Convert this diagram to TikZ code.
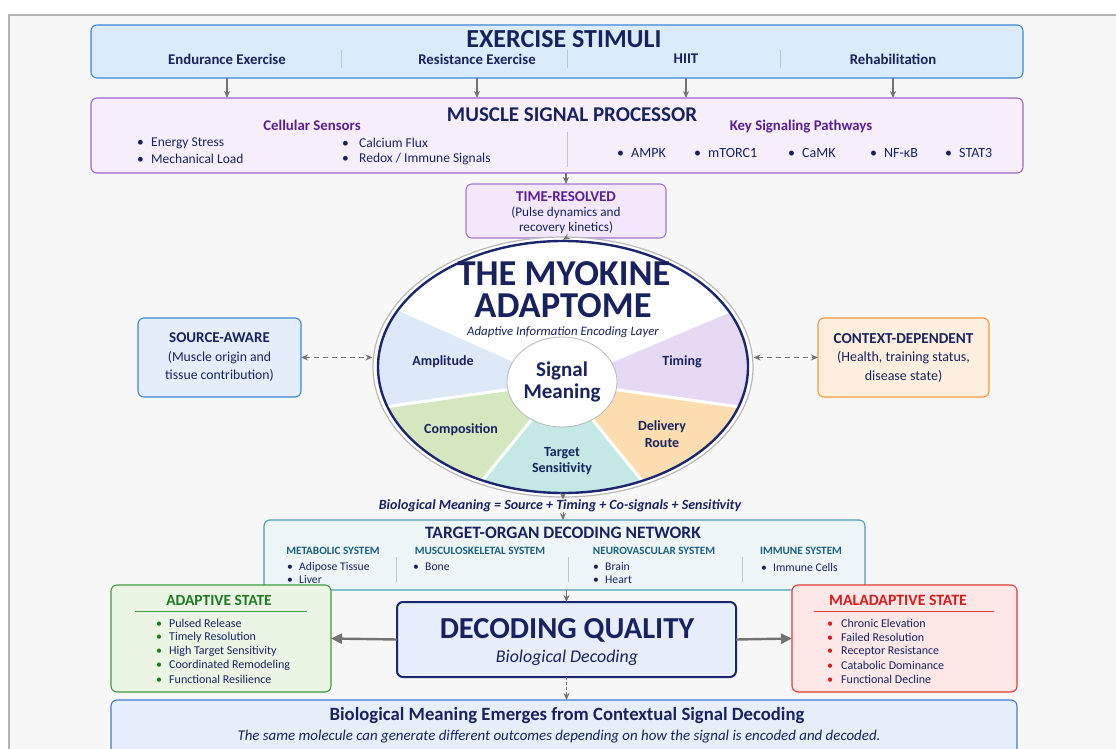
\documentclass[tikz,border=0pt]{standalone}
\usepackage{fontspec}
\setmainfont{Carlito}
\usepackage{xcolor}
\usepackage{tikz}
\usetikzlibrary{positioning}
\usetikzlibrary{calc}
\usetikzlibrary{arrows.meta}
\usetikzlibrary{shapes.geometric}

\definecolor{ink}{HTML}{18225F}
\definecolor{pagebg}{HTML}{F7F7F8}
\definecolor{framegray}{HTML}{B4B4B4}
\definecolor{arrgray}{HTML}{727272}
\definecolor{sepgray}{HTML}{C4C4C4}
\definecolor{stimfill}{HTML}{DCEBF9}
\definecolor{stimline}{HTML}{3A86D6}
\definecolor{procfill}{HTML}{F6EFFB}
\definecolor{procline}{HTML}{9B65CB}
\definecolor{purp}{HTML}{5A1E96}
\definecolor{timefill}{HTML}{F2E8FA}
\definecolor{timeline}{HTML}{A276D2}
\definecolor{ringgray}{HTML}{B8B8B8}
\definecolor{ampl}{HTML}{DDE9F8}
\definecolor{compo}{HTML}{D5E7BF}
\definecolor{targ}{HTML}{C4E9E5}
\definecolor{deliv}{HTML}{FBDDB0}
\definecolor{timing}{HTML}{E6D9F4}
\definecolor{srcfill}{HTML}{E4EEFA}
\definecolor{srcline}{HTML}{3B87D5}
\definecolor{ctxfill}{HTML}{FDEEDD}
\definecolor{ctxline}{HTML}{F29A3B}
\definecolor{netfill}{HTML}{EEF5F7}
\definecolor{netline}{HTML}{4E9CB2}
\definecolor{netink}{HTML}{17607F}
\definecolor{adfill}{HTML}{EBF5E4}
\definecolor{adline}{HTML}{3D9B41}
\definecolor{adgreen}{HTML}{1E7A22}
\definecolor{malfill}{HTML}{FDE8E7}
\definecolor{malline}{HTML}{E53935}
\definecolor{malred}{HTML}{D81B1B}
\definecolor{decfill}{HTML}{E7EEF9}
\definecolor{decline}{HTML}{1B2670}
\definecolor{botfill}{HTML}{E6EEF9}
\definecolor{botline}{HTML}{3D80CF}

\newcommand{\fsz}[2]{\fontsize{#1}{#2}\selectfont}
\newcommand{\bul}[1]{\makebox[#1][l]{\textbullet}}

\tikzset{
  panel/.style={draw, rounded corners=6pt, line width=1.1pt, inner sep=0pt, outer sep=0pt},
  txt/.style={inner sep=0pt, text=ink},
  item/.style={inner sep=0pt, text=ink, anchor=west},
  arr/.style={draw=arrgray, line width=1.3pt, -{Stealth[length=7pt,width=6pt]}},
  bigarr/.style={draw=arrgray, line width=2.4pt, -{Triangle[length=11pt,width=10pt]}},
  dasharr/.style={draw=arrgray, line width=1.3pt, dash pattern=on 5pt off 4pt,
    {Stealth[length=7pt,width=6pt]}-{Stealth[length=7pt,width=6pt]}},
  sepline/.style={draw=sepgray, line width=0.9pt},
}

\begin{document}
\begin{tikzpicture}[x=1pt,y=-1pt]

\useasboundingbox (0,0) rectangle (1116,749);
\fill[white] (0,0) rectangle (1116,749);
\fill[pagebg] (9,15) rectangle (1116,749);
\draw[framegray, line width=1.4pt] (9,749) -- (9,15) -- (1116,15);

% exercise stimuli
\node[panel, draw=stimline, fill=stimfill, minimum width=932pt, minimum height=53pt] (stimuli) at (557,51.5) {};
\node[txt, font=\fsz{26}{28}\bfseries] (stimtitle) at (564,39) {EXERCISE STIMULI};
\node[txt, font=\fsz{14.8}{16}\bfseries] (endu) at (227,59) {Endurance Exercise};
\node[txt, font=\fsz{14.8}{16}\bfseries] (resis) at (477,59) {Resistance Exercise};
\node[txt, font=\fsz{14.8}{16}\bfseries] (hiit) at (686,59) {HIIT};
\node[txt, font=\fsz{14.8}{16}\bfseries] (rehab) at (893,59) {Rehabilitation};
\foreach \x in {341,567,780}
  \draw[sepline] (\x,50) -- (\x,68);

% muscle signal processor
\node[panel, draw=procline, fill=procfill, minimum width=932pt, minimum height=75pt] (proc) at (557,135.5) {};
\node[txt, font=\fsz{21}{23}\bfseries] (proctitle) at (572,115) {MUSCLE SIGNAL PROCESSOR};
\node[txt, text=purp, font=\fsz{14.8}{16}\bfseries] (sensors) at (312,125) {Cellular Sensors};
\node[txt, text=purp, font=\fsz{14.8}{16}\bfseries] (pathways) at (801,127) {Key Signaling Pathways};
\node[item, font=\fsz{13.5}{15}] (s1) at (137,143) {\bul{14pt}Energy Stress};
\node[item, font=\fsz{13.5}{15}] (s2) at (137,159) {\bul{14pt}Mechanical Load};
\node[item, font=\fsz{13.5}{15}] (s3) at (342,143) {\bul{17pt}Calcium Flux};
\node[item, font=\fsz{13.5}{15}] (s4) at (342,159) {\bul{17pt}Redox / Immune Signals};
\draw[sepline] (567,132) -- (567,167);
\foreach \x/\t [count=\i] in {617/AMPK, 694/mTORC1, 788/CaMK, 870/NF-κB, 945/STAT3}
  \node[item, font=\fsz{14}{15}] (p\i) at (\x,153) {\bul{14pt}\t};

\foreach \n in {endu,resis,hiit,rehab}
  \draw[arr] (stimuli.south -| \n) -- (proc.north -| \n);

% time-resolved
\node[panel, draw=timeline, fill=timefill, minimum width=200pt, minimum height=54pt] (time) at (566,211) {};
\node[txt, text=purp, font=\fsz{15}{16}\bfseries] (timetitle) at (566,197) {TIME-RESOLVED};
\node[txt, align=center, font=\fsz{13.2}{15}] (timetext) at (566,220.5) {(Pulse dynamics and\\recovery kinetics)};
\draw[arr] (proc.south -| time.north) -- (time.north);

% the adaptome ellipse
\node[ellipse, draw=ringgray, fill=white, line width=1.2pt, minimum width=380pt, minimum height=260pt] (ring) at (563,367) {};
\coordinate (C) at (562,382);
\begin{scope}
  \clip (563,367) ellipse [x radius=185, y radius=126];
  \foreach \a/\b/\col in {156/188/ampl, 188/231/compo, 231/309/targ, 309/352/deliv, 352/383/timing}
    \fill[\col] (C) -- ($(C)+(-\a:600)$) -- ($(C)+(-\b:600)$) -- cycle;
  % white gaps between slices
  \foreach \a in {156,188,231,309,352,383}
    \draw[white, line width=3pt] (C) -- ($(C)+(-\a:600)$);
\end{scope}
\node[ellipse, draw=decline, line width=2.4pt, minimum width=370pt, minimum height=252pt] (adaptome) at (563,367) {};
\draw[arr, line width=1pt] (time.south) -- (adaptome.north);

\node[txt, text height=23pt, text depth=0pt, font=\fsz{36.5}{37}\bfseries] (myokine) at (564,273.5) {THE MYOKINE};
\node[txt, text height=23pt, text depth=0pt, font=\fsz{36.5}{37}\bfseries] (adaptomet) at (563,305.5) {ADAPTOME};
\node[txt, text height=9pt, text depth=2pt, font=\fsz{12.8}{14}\itshape] (layer) at (563,331.5) {Adaptive Information Encoding Layer};

\node[txt, font=\fsz{14}{16}\bfseries] (amp) at (443,362) {Amplitude};
\node[txt, font=\fsz{14}{16}\bfseries] (tim) at (682,362) {Timing};
\node[txt, font=\fsz{14}{16}\bfseries] (comp) at (461,430) {Composition};
\node[txt, align=center, font=\fsz{14}{16.5}\bfseries] (tsens) at (562,461) {Target\\Sensitivity};
\node[txt, align=center, font=\fsz{14}{16.5}\bfseries] (route) at (662,434) {Delivery\\Route};
\node[ellipse, draw=ringgray, fill=white, line width=0.8pt, minimum width=110pt, minimum height=90pt,
  inner sep=0pt, align=center, text=ink, font=\fsz{21}{22}\bfseries] (core) at (C) {Signal\\Meaning};

% side boxes
\node[panel, draw=srcline, fill=srcfill, minimum width=163pt, minimum height=79pt, align=center,
  text=ink, font=\fsz{13.7}{18.5}] (source) at (219.5,357.5) {{\fsz{15}{18.5}\bfseries SOURCE-AWARE}\\(Muscle origin and\\tissue contribution)};
\node[panel, draw=ctxline, fill=ctxfill, minimum width=171pt, minimum height=79pt, align=center,
  text=ink, font=\fsz{14}{18.5}] (context) at (903.5,357.5) {{\fsz{15.2}{18.5}\bfseries CONTEXT-DEPENDENT}\\(Health, training status,\\disease state)};
\draw[dasharr] (source.east) -- (source.east -| ring.west);
\draw[dasharr] (context.west -| ring.east) -- (context.west);

% meaning formula
\node[txt, font=\fsz{14}{15}\bfseries\itshape] (formula) at (560,506) {Biological Meaning = Source + Timing + Co-signals + Sensitivity};
\draw[arr, line width=1pt] (adaptome.south) -- (adaptome.south |- formula.north);

% target-organ decoding network
\node[panel, draw=netline, fill=netfill, minimum width=601pt, minimum height=70pt] (network) at (564.5,555) {};
\draw[arr, line width=1pt] (adaptome.south |- formula.south) -- (adaptome.south |- network.north);
\node[txt, font=\fsz{17.4}{19}\bfseries] (nettitle) at (563,533) {TARGET-ORGAN DECODING NETWORK};
\node[txt, text=netink, font=\fsz{11.2}{12}\bfseries] (metab) at (333,551) {METABOLIC SYSTEM};
\node[txt, text=netink, font=\fsz{11.2}{12}\bfseries] (musc) at (480,551) {MUSCULOSKELETAL SYSTEM};
\node[txt, text=netink, font=\fsz{11.2}{12}\bfseries] (neuro) at (654,551) {NEUROVASCULAR SYSTEM};
\node[txt, text=netink, font=\fsz{11.2}{12}\bfseries] (immune) at (801,551) {IMMUNE SYSTEM};
\node[item, font=\fsz{11.7}{13}] (n1) at (287,567) {\bul{12pt}Adipose Tissue};
\node[item, font=\fsz{11.7}{13}] (n2) at (287,580) {\bul{12pt}Liver};
\node[item, font=\fsz{11.7}{13}] (n3) at (413,567) {\bul{12pt}Bone};
\node[item, font=\fsz{11.7}{13}] (n4) at (593,567) {\bul{12pt}Brain};
\node[item, font=\fsz{11.7}{13}] (n5) at (593,580) {\bul{12pt}Heart};
\node[item, font=\fsz{11.7}{13}] (n6) at (761,567) {\bul{12pt}Immune Cells};
\foreach \x in {396,568,742}
  \draw[sepline] (\x,557) -- (\x,582);

% decoding quality and the two states
\node[panel, draw=decline, fill=decfill, line width=2pt, minimum width=339pt, minimum height=75pt] (decoding) at (566.5,639.5) {};
\node[txt, font=\fsz{30.5}{32}\bfseries] (dectitle) at (567,630) {DECODING QUALITY};
\node[txt, font=\fsz{17.9}{19}\itshape] (decsub) at (567,658) {Biological Decoding};
\draw[arr] (decoding.north |- network.south) -- (decoding.north);

\node[panel, draw=adline, fill=adfill, minimum width=220pt, minimum height=107pt] (adaptive) at (221,638.5) {};
\node[txt, text=adgreen, font=\fsz{15.5}{16}\bfseries] (adtitle) at (219,600) {ADAPTIVE STATE};
\draw[adline, line width=0.7pt] (135,611) -- (307,611);
\foreach \t [count=\i] in {Pulsed Release, Timely Resolution, High Target Sensitivity, Coordinated Remodeling, Functional Resilience}
  \node[item, font=\fsz{12}{13}] (ad\i) at (156,609+14*\i) {\makebox[13pt][l]{\textcolor{adgreen}{\textbullet}}\t};

\node[panel, draw=malline, fill=malfill, minimum width=225pt, minimum height=107pt] (maladaptive) at (904.5,638.5) {};
\node[txt, text=malred, font=\fsz{15.8}{16}\bfseries] (maltitle) at (898,600) {MALADAPTIVE STATE};
\draw[malline, line width=0.7pt] (814,611) -- (994,611);
\foreach \t [count=\i] in {Chronic Elevation, Failed Resolution, Receptor Resistance, Catabolic Dominance, Functional Decline}
  \node[item, font=\fsz{12}{13}] (mal\i) at (827,609+14*\i) {\makebox[14pt][l]{\textcolor{malred}{\textbullet}}\t};

\draw[bigarr] (decoding.west) -- (adaptive.east);
\draw[bigarr] (decoding.east) -- (maladaptive.west);

% bottom message
\node[panel, draw=botline, fill=botfill, minimum width=906pt, minimum height=60pt] (bottom) at (564,730) {};
\draw[arr, line width=1pt, dash pattern=on 3pt off 2pt] (decoding.south) -- (bottom.north -| decoding.south);
\node[txt, font=\fsz{18.7}{20}\bfseries] (bottitle) at (567,716) {Biological Meaning Emerges from Contextual Signal Decoding};
\node[txt, font=\fsz{14.9}{16}\itshape] (botsub) at (559,737) {The same molecule can generate different outcomes depending on how the signal is encoded and decoded.};

\end{tikzpicture}
\end{document}
